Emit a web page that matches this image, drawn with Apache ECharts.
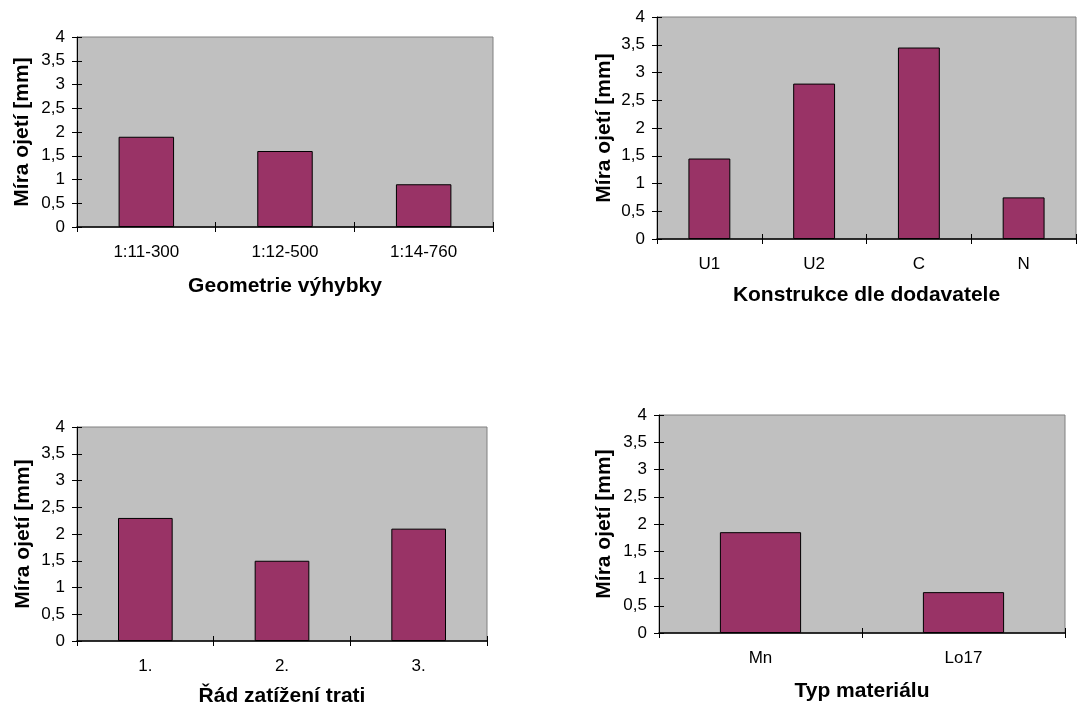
<!DOCTYPE html>
<html>
<head>
<meta charset="utf-8">
<script src="https://cdn.jsdelivr.net/npm/echarts@6/dist/echarts.min.js"></script>
<style>
html,body{margin:0;padding:0;background:#fff;}
#c{width:1077px;height:704px;}
</style>
</head>
<body>
<div id="c"></div>
<script>
const yName = 'Míra ojetí [mm]';
const yTicks = [0, 0.5, 1, 1.5, 2, 2.5, 3, 3.5, 4];

const cat1 = ['1:11-300', '1:12-500', '1:14-760'];
const val1 = [1.9, 1.6, 0.9];
const title1 = 'Geometrie výhybky';

const cat2 = ['U1', 'U2', 'C', 'N'];
const val2 = [1.45, 2.8, 3.45, 0.75];
const title2 = 'Konstrukce dle dodavatele';

const cat3 = ['1.', '2.', '3.'];
const val3 = [2.3, 1.5, 2.1];
const title3 = 'Řád zatížení trati';

const cat4 = ['Mn', 'Lo17'];
const val4 = [1.85, 0.75];
const title4 = 'Typ materiálu';

const panels = [
  {cat: cat1, val: val1, title: title1, grid: {left: 77, top: 37, width: 416, height: 190}, xg: 49, yg: 44},
  {cat: cat2, val: val2, title: title2, grid: {left: 657, top: 17, width: 419, height: 222}, xg: 46, yg: 42},
  {cat: cat3, val: val3, title: title3, grid: {left: 77, top: 427, width: 410, height: 214}, xg: 45, yg: 43},
  {cat: cat4, val: val4, title: title4, grid: {left: 659, top: 415, width: 406, height: 218}, xg: 48, yg: 44}
];

const FONT = '"Liberation Sans", Arial, sans-serif';
const fmt = v => String(v).replace('.', ',');

const xAxes = [], yAxes = [];
panels.forEach((p, i) => {
  xAxes.push({
    type: 'category', gridIndex: i, data: p.cat,
    name: p.title, nameLocation: 'middle', nameGap: p.xg,
    nameTextStyle: {fontFamily: FONT, fontSize: 21, fontWeight: 'bold', color: '#000'},
    axisLine: {lineStyle: {color: '#000', width: 1.5}},
    axisTick: {show: true, length: 5, lineStyle: {color: '#000'}},
    axisLabel: {fontFamily: FONT, fontSize: 17, color: '#000', margin: 17}
  });
  yAxes.push({
    type: 'value', gridIndex: i, min: 0, max: 4, interval: 0.5,
    name: yName, nameLocation: 'middle', nameGap: p.yg, nameRotate: 90,
    nameTextStyle: {fontFamily: FONT, fontSize: 21, fontWeight: 'bold', color: '#000'},
    axisLine: {show: true, lineStyle: {color: '#000', width: 1}},
    axisTick: {show: true, length: 5, lineStyle: {color: '#000'}},
    splitLine: {show: false},
    axisLabel: {fontFamily: FONT, fontSize: 17, color: '#000', margin: 12, formatter: v => fmt(v)}
  });
});
// inner halves of the crossing tick marks
panels.forEach((p, i) => {
  xAxes.push({
    type: 'category', gridIndex: i, data: p.cat, position: 'bottom',
    axisLine: {show: false},
    axisTick: {show: true, inside: true, length: 5, lineStyle: {color: '#000'}},
    axisLabel: {show: false}, splitLine: {show: false}
  });
  yAxes.push({
    type: 'value', gridIndex: i, min: 0, max: 4, interval: 0.5, position: 'left',
    axisLine: {show: false},
    axisTick: {show: true, inside: true, length: 5, lineStyle: {color: '#000'}},
    axisLabel: {show: false}, splitLine: {show: false}
  });
});

const option = {
  animation: false,
  backgroundColor: '#ffffff',
  grid: panels.map(p => Object.assign({
    show: true, backgroundColor: '#C0C0C0', borderColor: '#808080', borderWidth: 1,
    containLabel: false, outerBoundsMode: 'none'
  }, p.grid)),
  xAxis: xAxes,
  yAxis: yAxes,
  series: panels.map((p, i) => ({
    type: 'bar', xAxisIndex: i, yAxisIndex: i, data: p.val,
    barCategoryGap: '60%',
    itemStyle: {color: '#993366', borderColor: '#000', borderWidth: 1}
  }))
};

const chart = echarts.init(document.getElementById('c'), null, {renderer: 'canvas'});
chart.setOption(option);
</script>
</body>
</html>
